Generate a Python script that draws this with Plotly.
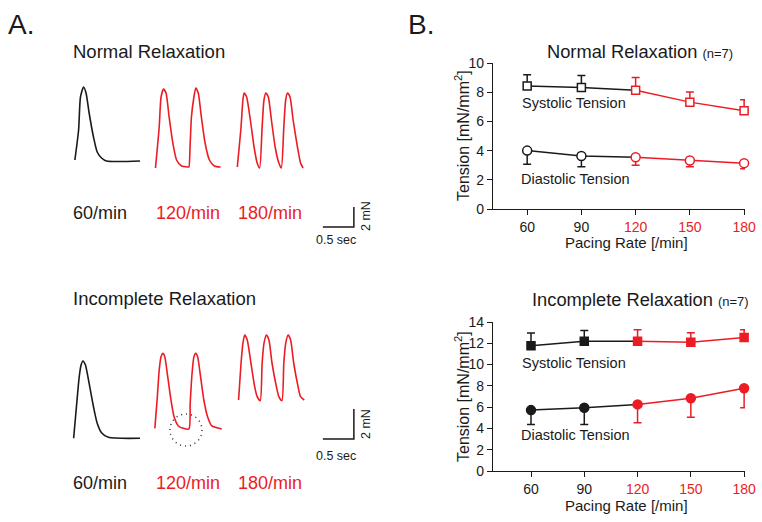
import plotly.graph_objects as go

W, H = 762, 522
RED = "#ec1c24"
BLK = "#1a1a1a"
FONT = "Liberation Sans, Arial, sans-serif"

# ---------------- Panel B data ----------------
rates = [60, 90, 120, 150, 180]
rate_labels = ["60", "90", "120", "150", "180"]
rate_colors = [BLK, BLK, RED, RED, RED]

normal_sys = [8.43, 8.32, 8.14, 7.32, 6.73]
normal_sys_err = [0.77, 0.82, 0.86, 0.70, 0.75]
normal_dia = [4.00, 3.63, 3.55, 3.32, 3.14]
normal_dia_err = [0.93, 0.73, 0.55, 0.42, 0.39]

incomp_sys = [11.77, 12.18, 12.18, 12.10, 12.55]
incomp_sys_err = [1.19, 1.02, 1.09, 0.90, 0.72]
incomp_dia = [5.72, 5.94, 6.26, 6.83, 7.77]
incomp_dia_err = [1.35, 1.57, 1.73, 1.77, 1.83]

# ---------------- Panel A traces (time in s, tension in mN) ----------------
n60_t = [0.24, 0.30, 0.33, 0.38, 0.42, 0.47, 0.54, 0.60, 0.67, 0.75, 1.29]
n60_f = [7.0, 10.0, 13.3, 14.3, 13.7, 11.7, 9.3, 7.8, 7.2, 6.9, 6.9]
n120_t = [1.54, 1.60, 1.63, 1.67, 1.71, 1.76, 1.82, 1.88, 1.96, 2.07, 2.08, 2.10, 2.12,
          2.16, 2.19, 2.23, 2.28, 2.34, 2.41, 2.49, 2.59]
n120_f = [6.2, 10.3, 13.3, 14.1, 13.7, 11.3, 8.7, 7.0, 6.4, 6.3, 6.3, 8.7, 11.3,
          13.3, 14.2, 13.7, 11.3, 8.7, 7.0, 6.4, 6.3]
n180_t = [2.86, 2.92, 2.95, 2.97, 3.01, 3.07, 3.13, 3.18, 3.22, 3.26, 3.29, 3.32, 3.36,
          3.41, 3.47, 3.53, 3.57, 3.61, 3.64, 3.67, 3.71, 3.76, 3.83, 3.88, 3.92]
n180_f = [6.3, 10.3, 13.0, 13.7, 13.3, 11.0, 8.3, 6.7, 6.2, 10.3, 13.0, 13.7, 13.3,
          11.0, 8.3, 6.7, 6.2, 10.3, 13.0, 13.7, 13.3, 11.0, 8.3, 6.7, 6.2]

i60_t = [0.22, 0.27, 0.31, 0.34, 0.37, 0.41, 0.47, 0.54, 0.60, 0.67, 0.78, 1.29]
i60_f = [0.45, 2.78, 4.55, 5.33, 5.60, 5.33, 4.11, 2.55, 1.45, 0.82, 0.51, 0.45]
i120_t = [1.53, 1.57, 1.60, 1.63, 1.66, 1.69, 1.73, 1.79, 1.84, 1.91, 1.99, 2.08, 2.10,
          2.13, 2.16, 2.19, 2.22, 2.26, 2.32, 2.38, 2.45, 2.61]
i120_f = [1.11, 3.22, 5.00, 5.89, 6.11, 5.89, 4.78, 3.00, 1.89, 1.27, 1.11, 1.07, 2.78,
          4.78, 5.89, 6.11, 5.89, 4.78, 3.00, 1.89, 1.27, 1.07]
i180_t = [2.88, 2.92, 2.95, 2.98, 3.02, 3.08, 3.14, 3.18, 3.23, 3.26, 3.29, 3.33, 3.37,
          3.42, 3.49, 3.53, 3.58, 3.61, 3.64, 3.68, 3.72, 3.77, 3.84, 3.88, 3.94]
i180_f = [3.00, 5.45, 6.78, 7.33, 7.00, 5.45, 3.89, 3.22, 2.95, 5.45, 6.78, 7.33, 7.00,
          5.45, 3.89, 3.22, 2.95, 5.45, 6.78, 7.33, 7.00, 5.45, 3.89, 3.22, 3.00]

scale_sec = 0.5
scale_mN = 2
trace_labels = ["60/min", "120/min", "180/min"]
trace_label_colors = [BLK, RED, RED]


def px(x):
    return x / W


def py(y):
    return 1 - y / H


fig = go.Figure()


def add_series(xa, ya, vals, errs, up, symbol, fill_open):
    fig.add_trace(go.Scatter(x=rates[:3], y=vals[:3], mode="lines",
                             line=dict(color=BLK, width=1.5), xaxis=xa, yaxis=ya,
                             showlegend=False, hoverinfo="skip"))
    fig.add_trace(go.Scatter(x=rates[2:], y=vals[2:], mode="lines",
                             line=dict(color=RED, width=1.5), xaxis=xa, yaxis=ya,
                             showlegend=False, hoverinfo="skip"))
    for sl, col in ((slice(0, 2), BLK), (slice(2, 5), RED)):
        e = errs[sl]
        zeros = [0] * len(e)
        err = dict(type="data", symmetric=False,
                   array=e if up else zeros, arrayminus=zeros if up else e,
                   color=col, thickness=1.5, width=4)
        fig.add_trace(go.Scatter(
            x=rates[sl], y=vals[sl], mode="markers", error_y=err,
            marker=dict(symbol=symbol, size=8 if "square" in symbol else 9,
                        color="white" if fill_open else col,
                        line=dict(color=col, width=1.5)),
            xaxis=xa, yaxis=ya, showlegend=False, cliponaxis=False))


add_series("x", "y", normal_sys, normal_sys_err, True, "square", True)
add_series("x", "y", normal_dia, normal_dia_err, False, "circle", True)
add_series("x2", "y2", incomp_sys, incomp_sys_err, True, "square", False)
add_series("x2", "y2", incomp_dia, incomp_dia_err, False, "circle", False)

for t, f, col, xa, ya in [
    (n60_t, n60_f, BLK, "x3", "y3"), (n120_t, n120_f, RED, "x3", "y3"), (n180_t, n180_f, RED, "x3", "y3"),
    (i60_t, i60_f, BLK, "x4", "y4"), (i120_t, i120_f, RED, "x4", "y4"), (i180_t, i180_f, RED, "x4", "y4"),
]:
    fig.add_trace(go.Scatter(x=t, y=f, mode="lines",
                             line=dict(color=col, width=1.6, shape="spline", smoothing=0.6),
                             xaxis=xa, yaxis=ya, showlegend=False, hoverinfo="skip"))

for xa, ya, cx, cy in (("x3", "y3", 4.74, 0.3), ("x4", "y4", 4.74, 0.4)):
    fig.add_trace(go.Scatter(x=[cx - scale_sec, cx, cx], y=[cy, cy, cy + scale_mN],
                             mode="lines", line=dict(color=BLK, width=1.5),
                             xaxis=xa, yaxis=ya, showlegend=False, hoverinfo="skip"))

tick_text = [f'<span style="color:{c}">{l}</span>' for l, c in zip(rate_labels, rate_colors)]
ax_common = dict(showline=True, linecolor=BLK, linewidth=1.3, ticks="outside", ticklen=5,
                 tickcolor=BLK, tickwidth=1.3, showgrid=False, zeroline=False,
                 tickfont=dict(family=FONT, size=14, color=BLK))

fig.update_layout(
    width=W, height=H, margin=dict(l=0, r=0, t=0, b=0, autoexpand=False),
    paper_bgcolor="white", plot_bgcolor="white", showlegend=False,
    font=dict(family=FONT, color=BLK),
    xaxis=dict(domain=[px(493), px(745)], range=[41.1, 180.5], anchor="y",
               tickvals=rates, ticktext=tick_text, **ax_common),
    yaxis=dict(domain=[py(209), py(63)], range=[0, 10], anchor="x",
               tickvals=[0, 2, 4, 6, 8, 10], **ax_common),
    xaxis2=dict(domain=[px(493), px(745)], range=[38.6, 180.5], anchor="y2",
                tickvals=rates, ticktext=tick_text, **ax_common),
    yaxis2=dict(domain=[py(471), py(322)], range=[0, 14], anchor="x2",
                tickvals=[0, 2, 4, 6, 8, 10, 12, 14], **ax_common),
    xaxis3=dict(domain=[px(60), px(420)], range=[0, 360 / 62], anchor="y3", visible=False),
    yaxis3=dict(domain=[py(240), py(60)], range=[-1, 17], anchor="x3", visible=False),
    xaxis4=dict(domain=[px(60), px(420)], range=[0, 360 / 62], anchor="y4", visible=False),
    yaxis4=dict(domain=[py(465), py(320)], range=[-20 / 15, 125 / 15], anchor="x4", visible=False),
)

fig.add_shape(type="circle", xref="x4", yref="y4", x0=1.774, x1=2.290, y0=-0.067, y1=2.067,
              line=dict(color="#333333", width=1.5, dash="1px,4px"))


def ann(text, x, y, size, color=BLK, xanchor="center", angle=0):
    fig.add_annotation(text=text, x=px(x), y=py(y), xref="paper", yref="paper",
                       showarrow=False, xanchor=xanchor, yanchor="middle", textangle=angle,
                       borderpad=0, font=dict(family=FONT, size=size, color=color))


ann("A.", 7, 25, 28, xanchor="left")
ann("B.", 407, 25, 28, xanchor="left")
ann("Normal Relaxation", 72, 52, 18.5, xanchor="left")
ann("Incomplete Relaxation", 72, 298, 18.5, xanchor="left")
for lab, c, cx in zip(trace_labels, trace_label_colors, [100, 188, 270]):
    ann(lab, cx, 213, 18, color=c)
    ann(lab, cx, 483, 18, color=c)
ann("2 mN", 366, 216, 12.5, angle=-90)
ann("0.5 sec", 336, 240, 12.5)
ann("2 mN", 366, 424, 12.5, angle=-90)
ann("0.5 sec", 336, 456, 12.5)

ann('Normal Relaxation <span style="font-size:13px">(n=7)</span>', 546, 51, 18.3, xanchor="left")
ann('Incomplete Relaxation <span style="font-size:13px">(n=7)</span>', 531, 299, 18.3, xanchor="left")
ann("Tension [mN/mm<sup>2</sup>]", 462, 136, 16, angle=-90)
ann("Tension [mN/mm<sup>2</sup>]", 462, 397, 16, angle=-90)
ann("Pacing Rate [/min]", 626, 242, 15)
ann("Pacing Rate [/min]", 626, 505, 15)
ann("Systolic Tension", 521, 103, 14.5, xanchor="left")
ann("Diastolic Tension", 520, 179, 14.5, xanchor="left")
ann("Systolic Tension", 521, 363, 14.5, xanchor="left")
ann("Diastolic Tension", 520, 435, 14.5, xanchor="left")

fig.write_html("out.html", config={"displayModeBar": False},
               post_script="document.body.style.margin='0px';document.body.style.overflow='hidden';")
